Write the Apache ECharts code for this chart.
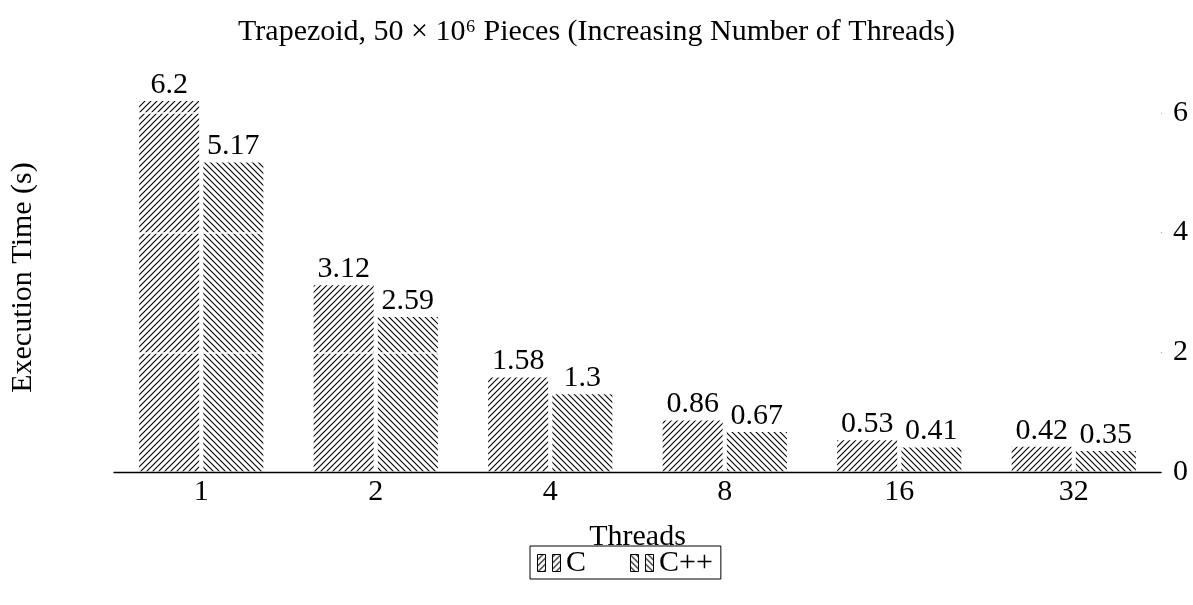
<!DOCTYPE html>
<html><head><meta charset="utf-8">
<script src="https://cdn.jsdelivr.net/npm/echarts@6/dist/echarts.min.js"></script>
<style>html,body{margin:0;padding:0;background:#fff}#c{width:1193px;height:605px}</style>
</head><body><div id="c"></div>
<script>
const categories = ['1', '2', '4', '8', '16', '32'];
const cValues = [6.2, 3.12, 1.58, 0.86, 0.53, 0.42];
const cppValues = [5.17, 2.59, 1.3, 0.67, 0.41, 0.35];
const yTicks = [0, 2, 4, 6];

const FONT = '"Liberation Serif", "DejaVu Serif", serif';
const FS = 30;

function hatch(dir) {
  const s = 6;
  const cv = document.createElement('canvas');
  cv.width = s; cv.height = s;
  const g = cv.getContext('2d');
  g.fillStyle = '#fff'; g.fillRect(0, 0, s, s);
  g.strokeStyle = '#000'; g.lineWidth = 1.1;
  g.beginPath();
  if (dir > 0) {
    g.moveTo(0, s); g.lineTo(s, 0);
    g.moveTo(-1, 1); g.lineTo(1, -1);
    g.moveTo(s - 1, s + 1); g.lineTo(s + 1, s - 1);
  } else {
    g.moveTo(0, 0); g.lineTo(s, s);
    g.moveTo(-1, s - 1); g.lineTo(1, s + 1);
    g.moveTo(s - 1, -1); g.lineTo(s + 1, 1);
  }
  g.stroke();
  return cv;
}

const chart = echarts.init(document.getElementById('c'), null, {renderer: 'canvas'});
const labelStyle = {show: true, position: 'top', distance: 1, color: '#000', fontFamily: FONT, fontSize: FS};
const BW = 60, GAP = '7%';

chart.setOption({
  animation: false,
  backgroundColor: '#fff',
  title: {
    text: 'Trapezoid, 50 × 10⁶ Pieces (Increasing Number of Threads)',
    left: 'center', top: 12,
    textStyle: {fontFamily: FONT, fontSize: FS, fontWeight: 'normal', color: '#000'}
  },
  legend: {
    bottom: 26, left: 530,
    data: ['C', 'C++'],
    icon: 'path://M0,0h8v17h-8z M15,0h8v17h-8z',
    itemWidth: 24, itemHeight: 17, itemGap: 44,
    padding: [2, 8, 1, 7],
    borderColor: '#000', borderWidth: 1, borderRadius: 0,
    itemStyle: {borderColor: '#000', borderWidth: 1},
    textStyle: {fontFamily: FONT, fontSize: FS, color: '#000', lineHeight: 22, padding: [2, 0, 0, 0]}
  },
  grid: {left: 111, right: 32, top: 83, bottom: 133, containLabel: false},
  xAxis: [{
    type: 'category', data: categories, z: 6,
    name: 'Threads', nameLocation: 'middle', nameGap: 50,
    nameTextStyle: {fontFamily: FONT, fontSize: FS, color: '#000'},
    axisLine: {lineStyle: {color: '#000', width: 1.3}},
    axisTick: {show: false},
    axisLabel: {color: '#000', fontFamily: FONT, fontSize: FS, margin: 5}
  }, {
    type: 'category', data: categories, show: false
  }],
  yAxis: [{
    type: 'value', position: 'right', min: 0, max: 6.5, interval: 2,
    z: 5,
    axisLine: {show: false},
    axisTick: {show: true, length: 1, lineStyle: {color: '#aaa'}},
    axisLabel: {color: '#000', fontFamily: FONT, fontSize: FS, margin: 12, showMaxLabel: false,
      formatter: v => yTicks.includes(v) ? String(v) : ''},
    splitLine: {show: true, lineStyle: {color: '#fff', width: 1.5}}
  }, {
    type: 'value', position: 'left', min: 0, max: 6.5,
    name: 'Execution Time (s)', nameLocation: 'middle', nameGap: 76,
    nameTextStyle: {fontFamily: FONT, fontSize: FS, color: '#000'},
    axisLine: {show: false}, axisTick: {show: false}, axisLabel: {show: false}, splitLine: {show: false}
  }],
  series: [{
    name: 'C', type: 'bar', data: cValues, barWidth: BW, barGap: GAP, z: 2,
    itemStyle: {color: {image: hatch(1), repeat: 'repeat'}, borderWidth: 0}
  }, {
    name: 'C++', type: 'bar', data: cppValues, barWidth: BW, barGap: GAP, z: 2,
    itemStyle: {color: {image: hatch(-1), repeat: 'repeat'}, borderWidth: 0}
  }, {
    name: 'C-label', type: 'bar', xAxisIndex: 1, data: cValues, barWidth: BW, barGap: GAP, z: 10, silent: true,
    itemStyle: {color: 'rgba(0,0,0,0)'}, label: labelStyle
  }, {
    name: 'C++-label', type: 'bar', xAxisIndex: 1, data: cppValues, barWidth: BW, barGap: GAP, z: 10, silent: true,
    itemStyle: {color: 'rgba(0,0,0,0)'}, label: labelStyle
  }]
});
</script></body></html>
